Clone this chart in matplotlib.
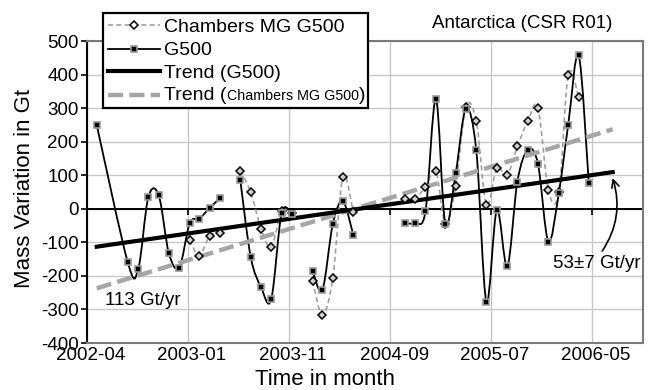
import matplotlib
matplotlib.use('Agg')
import matplotlib.pyplot as plt
import matplotlib.dates as mdates
from matplotlib.path import Path
from matplotlib.patches import PathPatch, Rectangle
from matplotlib.lines import Line2D
from matplotlib.markers import TICKDOWN
from matplotlib.transforms import ScaledTranslation
import numpy as np
import pandas as pd

plt.rcParams['font.family'] = ['Liberation Sans', 'DejaVu Sans']
plt.rcParams['axes.unicode_minus'] = False

# Monthly mass variation (Gt); None breaks the line
g500_months = ['2002-04', '2002-07', '2002-08', '2002-09', '2002-10', '2002-11', '2002-12',
               '2003-01', '2003-02', '2003-03', '2003-04', '2003-05',
               '2003-06', '2003-07', '2003-08', '2003-09', '2003-10', '2003-11', '2003-12',
               '2004-01', '2004-02', '2004-03', '2004-04', '2004-05', '2004-06',
               '2004-10', '2004-11', '2004-12', '2005-01', '2005-02', '2005-03', '2005-04',
               '2005-05', '2005-06', '2005-07', '2005-08', '2005-09', '2005-10', '2005-11',
               '2005-12', '2006-01', '2006-02', '2006-03', '2006-04']
g500_values = [249, -159, -180, 34, 40, -132, -175,
               -43, -30, 2, 31, None,
               87, -143, -234, -270, -13, -16, None,
               -185, -242, -45, 22, -79, None,
               -42, -42, -8, 327, -45, 107, 298,
               174, -277, -3, -172, 81, 176, 134,
               -98, 47, 251, 458, 77]

chambers_months = ['2003-01', '2003-02', '2003-03', '2003-04', '2003-05',
                   '2003-06', '2003-07', '2003-08', '2003-09', '2003-10', '2003-11', '2003-12',
                   '2004-01', '2004-02', '2004-03', '2004-04', '2004-05', '2004-06',
                   '2004-10', '2004-11', '2004-12', '2005-01', '2005-02', '2005-03', '2005-04',
                   '2005-05', '2005-06', '2005-07', '2005-08', '2005-09', '2005-10', '2005-11',
                   '2005-12', '2006-01', '2006-02', '2006-03']
chambers_values = [-93, -140, -82, -71, None,
                   114, 50, -60, -114, -8, -13, None,
                   -215, -317, -205, 96, -11, None,
                   29, 30, 65, 112, -44, 69, 302,
                   261, 12, 121, 101, 186, 261, 301,
                   55, 49, 400, 332]

# Linear trends: start value (Gt) and rate (Gt/yr) over the trend span
trend_span = ['2002-04-30', '2006-07-10']
g500_trend_start, g500_rate = -113, 53
chambers_trend_start, chambers_rate = -237, 113

axis_start = '2002-04-01'
tick_step_days = 300


def month_end(m):
    return mdates.date2num(pd.Period(m, 'M').to_timestamp(how='end').normalize())


def segments(months, values):
    segs, cur = [], []
    for m, v in zip(months, values):
        if v is None:
            if cur:
                segs.append(cur)
            cur = []
        else:
            cur.append((month_end(m), v))
    if cur:
        segs.append(cur)
    return [np.array(s, dtype=float) for s in segs]


def smooth_path(pts):
    # Catmull-Rom through the points, written as cubic Bezier pieces
    verts = [tuple(pts[0])]
    codes = [Path.MOVETO]
    n = len(pts)
    for i in range(n - 1):
        p0 = pts[max(i - 1, 0)]
        p1 = pts[i]
        p2 = pts[i + 1]
        p3 = pts[min(i + 2, n - 1)]
        c1 = p1 + (p2 - p0) / 6.0
        c2 = p2 - (p3 - p1) / 6.0
        verts += [tuple(c1), tuple(c2), tuple(p2)]
        codes += [Path.CURVE4] * 3
    return Path(verts, codes)


W, H = 650, 390
fig = plt.figure(figsize=(W / 100, H / 100), dpi=100)
ax = fig.add_axes([87 / W, 1 - 343 / H, (643 - 87) / W, (343 - 41) / H])

x0 = mdates.date2num(pd.Timestamp(axis_start))
ax.set_xlim(x0, x0 + 1651)
ax.set_ylim(-400, 500)
ax.set_yticks(np.arange(-400, 501, 100))
xticks = [x0 + tick_step_days * k for k in range(6)]
ax.set_xticks(xticks)
ax.xaxis.set_major_formatter(mdates.DateFormatter('%Y-%m'))

ax.grid(True, color='#c8c8c8', lw=1.0, zorder=0)
ax.set_axisbelow(True)
for side in ['top', 'right', 'bottom']:
    ax.spines[side].set_color('#7a7a7a')
    ax.spines[side].set_linewidth(1.5)
ax.spines['left'].set_color('black')
ax.spines['left'].set_linewidth(1.5)
ax.tick_params(axis='y', length=4, width=1.2, pad=2, labelsize=13.5, color='black')
ax.tick_params(axis='x', length=0, pad=3, labelsize=13.5)
for lab in ax.get_xticklabels():
    lab.set_transform(lab.get_transform() + ScaledTranslation(4 / 100, 0, fig.dpi_scale_trans))

# horizontal axis crossing at zero, with its tick marks
ax.axhline(0, color='black', lw=1.4, zorder=1.5)
ax.plot(xticks, [0] * len(xticks), ls='none', marker=TICKDOWN, ms=4, mew=1.2,
        color='black', zorder=1.5)

# Chambers MG G500 series
for seg in segments(chambers_months, chambers_values):
    ax.add_patch(PathPatch(smooth_path(seg), fc='none', ec='#a0a0a0', lw=1.2,
                           ls=(0, (3, 2)), zorder=2))
for seg in segments(chambers_months, chambers_values):
    ax.plot(seg[:, 0], seg[:, 1], ls='none', marker='D', ms=4, mfc='#d0d0d0',
            mec='black', mew=1.1, zorder=4)

# G500 series
for seg in segments(g500_months, g500_values):
    ax.add_patch(PathPatch(smooth_path(seg), fc='none', ec='black', lw=1.3, zorder=2.5))
for seg in segments(g500_months, g500_values):
    ax.plot(seg[:, 0], seg[:, 1], ls='none', marker='s', ms=4, mfc='black',
            mec='#9a9a9a', mew=1.2, zorder=4)

# trend lines
t0, t1 = [mdates.date2num(pd.Timestamp(d)) for d in trend_span]
years = (t1 - t0) / 365.25
g500_end = g500_trend_start + g500_rate * years
ch_end = chambers_trend_start + chambers_rate * years
ax.plot([t0, t1], [chambers_trend_start, ch_end], color='#a6a6a6', lw=3.2,
        dashes=(3.4, 1.4), solid_capstyle='butt', zorder=3)
ax.plot([t0, t1], [g500_trend_start, g500_end], color='black', lw=3.0, zorder=3)

fig.text(105 / W, 1 - 305 / H, f'{chambers_rate} Gt/yr', fontsize=13.5, va='baseline')
ax.annotate(f'{g500_rate}\u00b17 Gt/yr', xy=(t1, g500_end - 18), xycoords='data',
            xytext=(553, H - 268), textcoords='figure pixels', fontsize=13.5,
            ha='left', va='baseline',
            arrowprops=dict(arrowstyle='->', color='black', lw=1.2, relpos=(0.53, 1.0),
                            shrinkA=1, shrinkB=0, connectionstyle='arc3,rad=0.25'))

# title and axis titles
fig.text(612 / W, 1 - 28 / H, 'Antarctica (CSR R01)', fontsize=13.5, ha='right', va='baseline')
fig.text(24 / W, 1 - 188 / H, 'Mass Variation in Gt', fontsize=16, rotation=90,
         ha='center', va='center')
fig.text(325 / W, 1 - 385 / H, 'Time in month', fontsize=16, ha='center', va='baseline')


# legend, drawn in figure pixels
def fx(px):
    return px / W


def fy(py):
    return 1 - py / H


fig.add_artist(Rectangle((fx(103), fy(108)), fx(368) - fx(103), fy(13) - fy(108),
                         transform=fig.transFigure, fc='white', ec='black', lw=1.6, zorder=5))

legend_rows = [
    (25, 32, dict(color='#a0a0a0', lw=1.2, ls=(0, (3, 2))),
     dict(marker='D', ms=4, mfc='white', mec='black', mew=1.1), 'Chambers MG G500'),
    (49, 55, dict(color='black', lw=1.3),
     dict(marker='s', ms=4, mfc='black', mec='#9a9a9a', mew=1.2), 'G500'),
    (71, 77.5, dict(color='black', lw=3.0), None, 'Trend (G500)'),
    (95, 100, dict(color='#a6a6a6', lw=3.2, dashes=(3.4, 1.4), solid_capstyle='butt'), None, None),
]
for yl, yb, lstyle, mstyle, label in legend_rows:
    fig.add_artist(Line2D([fx(108), fx(160)], [fy(yl), fy(yl)], transform=fig.transFigure,
                          zorder=6, **lstyle))
    if mstyle:
        fig.add_artist(Line2D([fx(134)], [fy(yl)], transform=fig.transFigure, ls='none',
                              zorder=7, **mstyle))
    if label:
        fig.text(fx(164), fy(yb), label, fontsize=14, va='baseline', zorder=7)

renderer = fig.canvas.get_renderer()
xpos = fx(164)
for txt, size in [('Trend (', 14), ('Chambers MG G500', 10.3), (')', 14)]:
    t = fig.text(xpos, fy(100), txt, fontsize=size, va='baseline', zorder=7)
    bb = t.get_window_extent(renderer)
    xpos = bb.x1 / W

fig.savefig('out.png', dpi=100)
